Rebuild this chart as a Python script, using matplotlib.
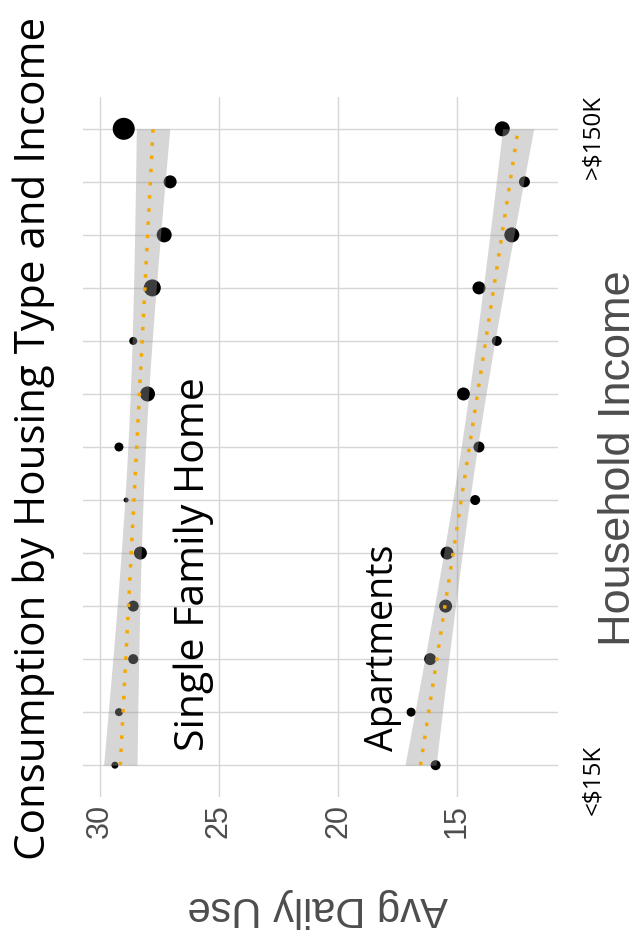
import matplotlib
matplotlib.use('Agg')
import matplotlib.pyplot as plt
import matplotlib.transforms as mtransforms
import numpy as np

# Household income brackets, lowest first (only the two ends are labelled)
income_levels = ['<$15K', '', '', '', '', '', '', '', '', '', '', '', '>$150K']

# Avg daily use per bracket
sfh_use = [29.37, 29.2, 28.6, 28.6, 28.3, 28.9, 29.2, 28.0, 28.6, 27.8, 27.3, 27.05, 29.0]
apt_use = [15.9, 16.93, 16.13, 15.48, 15.42, 14.24, 14.08, 14.73, 13.33, 14.08, 12.7, 12.17, 13.1]
# marker diameters (px) as drawn
sfh_size = [7, 8, 10, 11, 13, 5, 9, 15, 8, 17, 15, 13, 22]
apt_size = [10, 9, 12, 13, 13, 10, 11, 13, 10, 13, 15, 11, 15]

use_ticks = [30, 25, 20, 15]

GRAY = '#4d4d4d'
T_975 = 2.201  # t quantile, 11 df

fig = plt.figure(figsize=(6.37, 9.47), dpi=100)
fig.patch.set_facecolor('white')
ax = fig.add_axes([83/637, 150/947, 475/637, 700/947])

cats = np.arange(1, len(income_levels) + 1)

for use, size in ((sfh_use, sfh_size), (apt_use, apt_size)):
    use = np.array(use, dtype=float)
    ax.scatter(use, cats, s=(np.array(size) * 0.72) ** 2, color='black',
               linewidths=0, zorder=2)
    # linear fit + 95% band, like geom_smooth(method='lm')
    slope, icpt = np.polyfit(cats, use, 1)
    yy = np.linspace(cats.min(), cats.max(), 80)
    fit = icpt + slope * yy
    resid = use - (icpt + slope * cats)
    s = np.sqrt((resid ** 2).sum() / (len(cats) - 2))
    se = s * np.sqrt(1 / len(cats) + (yy - cats.mean()) ** 2 / ((cats - cats.mean()) ** 2).sum())
    ax.fill_betweenx(yy, fit - T_975 * se, fit + T_975 * se, color='#999999',
                     alpha=0.4, linewidth=0, zorder=3)
    ax.plot(fit, yy, color='#F5A800', lw=2.5, ls=(0, (1, 2.8)), zorder=4)

ax.set_xlim(30.71, 10.76)
ax.set_ylim(0.4, 13.6)
ax.set_xticks(use_ticks)
ax.set_xticklabels([str(t) for t in use_ticks], rotation=90, fontsize=22,
                   color=GRAY, family='Liberation Sans')
ax.set_yticks(cats)
ax.set_yticklabels([])
ax.tick_params(length=0)
ax.tick_params(axis='x', pad=5)
ax.grid(color='#d6d6d6', linewidth=1)
ax.set_axisbelow(True)
for sp in ax.spines.values():
    sp.set_visible(False)

# income labels on the right, reading upward
lab_tr = mtransforms.blended_transform_factory(ax.transAxes, ax.transData)
lab_tr = lab_tr + mtransforms.ScaledTranslation(0, -36 / 72, fig.dpi_scale_trans)
for c, lab in zip(cats, income_levels):
    if lab:
        ax.text(1.074, c, lab, transform=lab_tr, rotation=90, rotation_mode='anchor',
                ha='left', va='center', fontsize=17.5, family='Open Sans', color='black')

# group annotations
ax.text(25.63, 1.26, 'Single Family Home', rotation=90, rotation_mode='anchor',
        ha='left', va='baseline', fontsize=29.5, family='Open Sans', color='black')
ax.text(17.69, 1.26, 'Apartments', rotation=90, rotation_mode='anchor',
        ha='left', va='baseline', fontsize=27, family='Open Sans', color='black')

# axis titles
fig.text(318/637, 1 - 908/947, 'Avg Daily Use', rotation=180, ha='center', va='center',
         fontsize=30, family='Liberation Sans', color=GRAY)
fig.text(618/637, 1 - 458/947, 'Household Income', rotation=90, ha='center', va='center',
         fontsize=32.5, family='Liberation Sans', color=GRAY)

fig.text(45/637, 1 - 860/947, 'Consumption by Housing Type and Income', rotation=90,
         rotation_mode='anchor', ha='left', va='baseline', fontsize=30.3,
         family='Open Sans', color='black')

fig.savefig('out.png', dpi=100, facecolor='white')
